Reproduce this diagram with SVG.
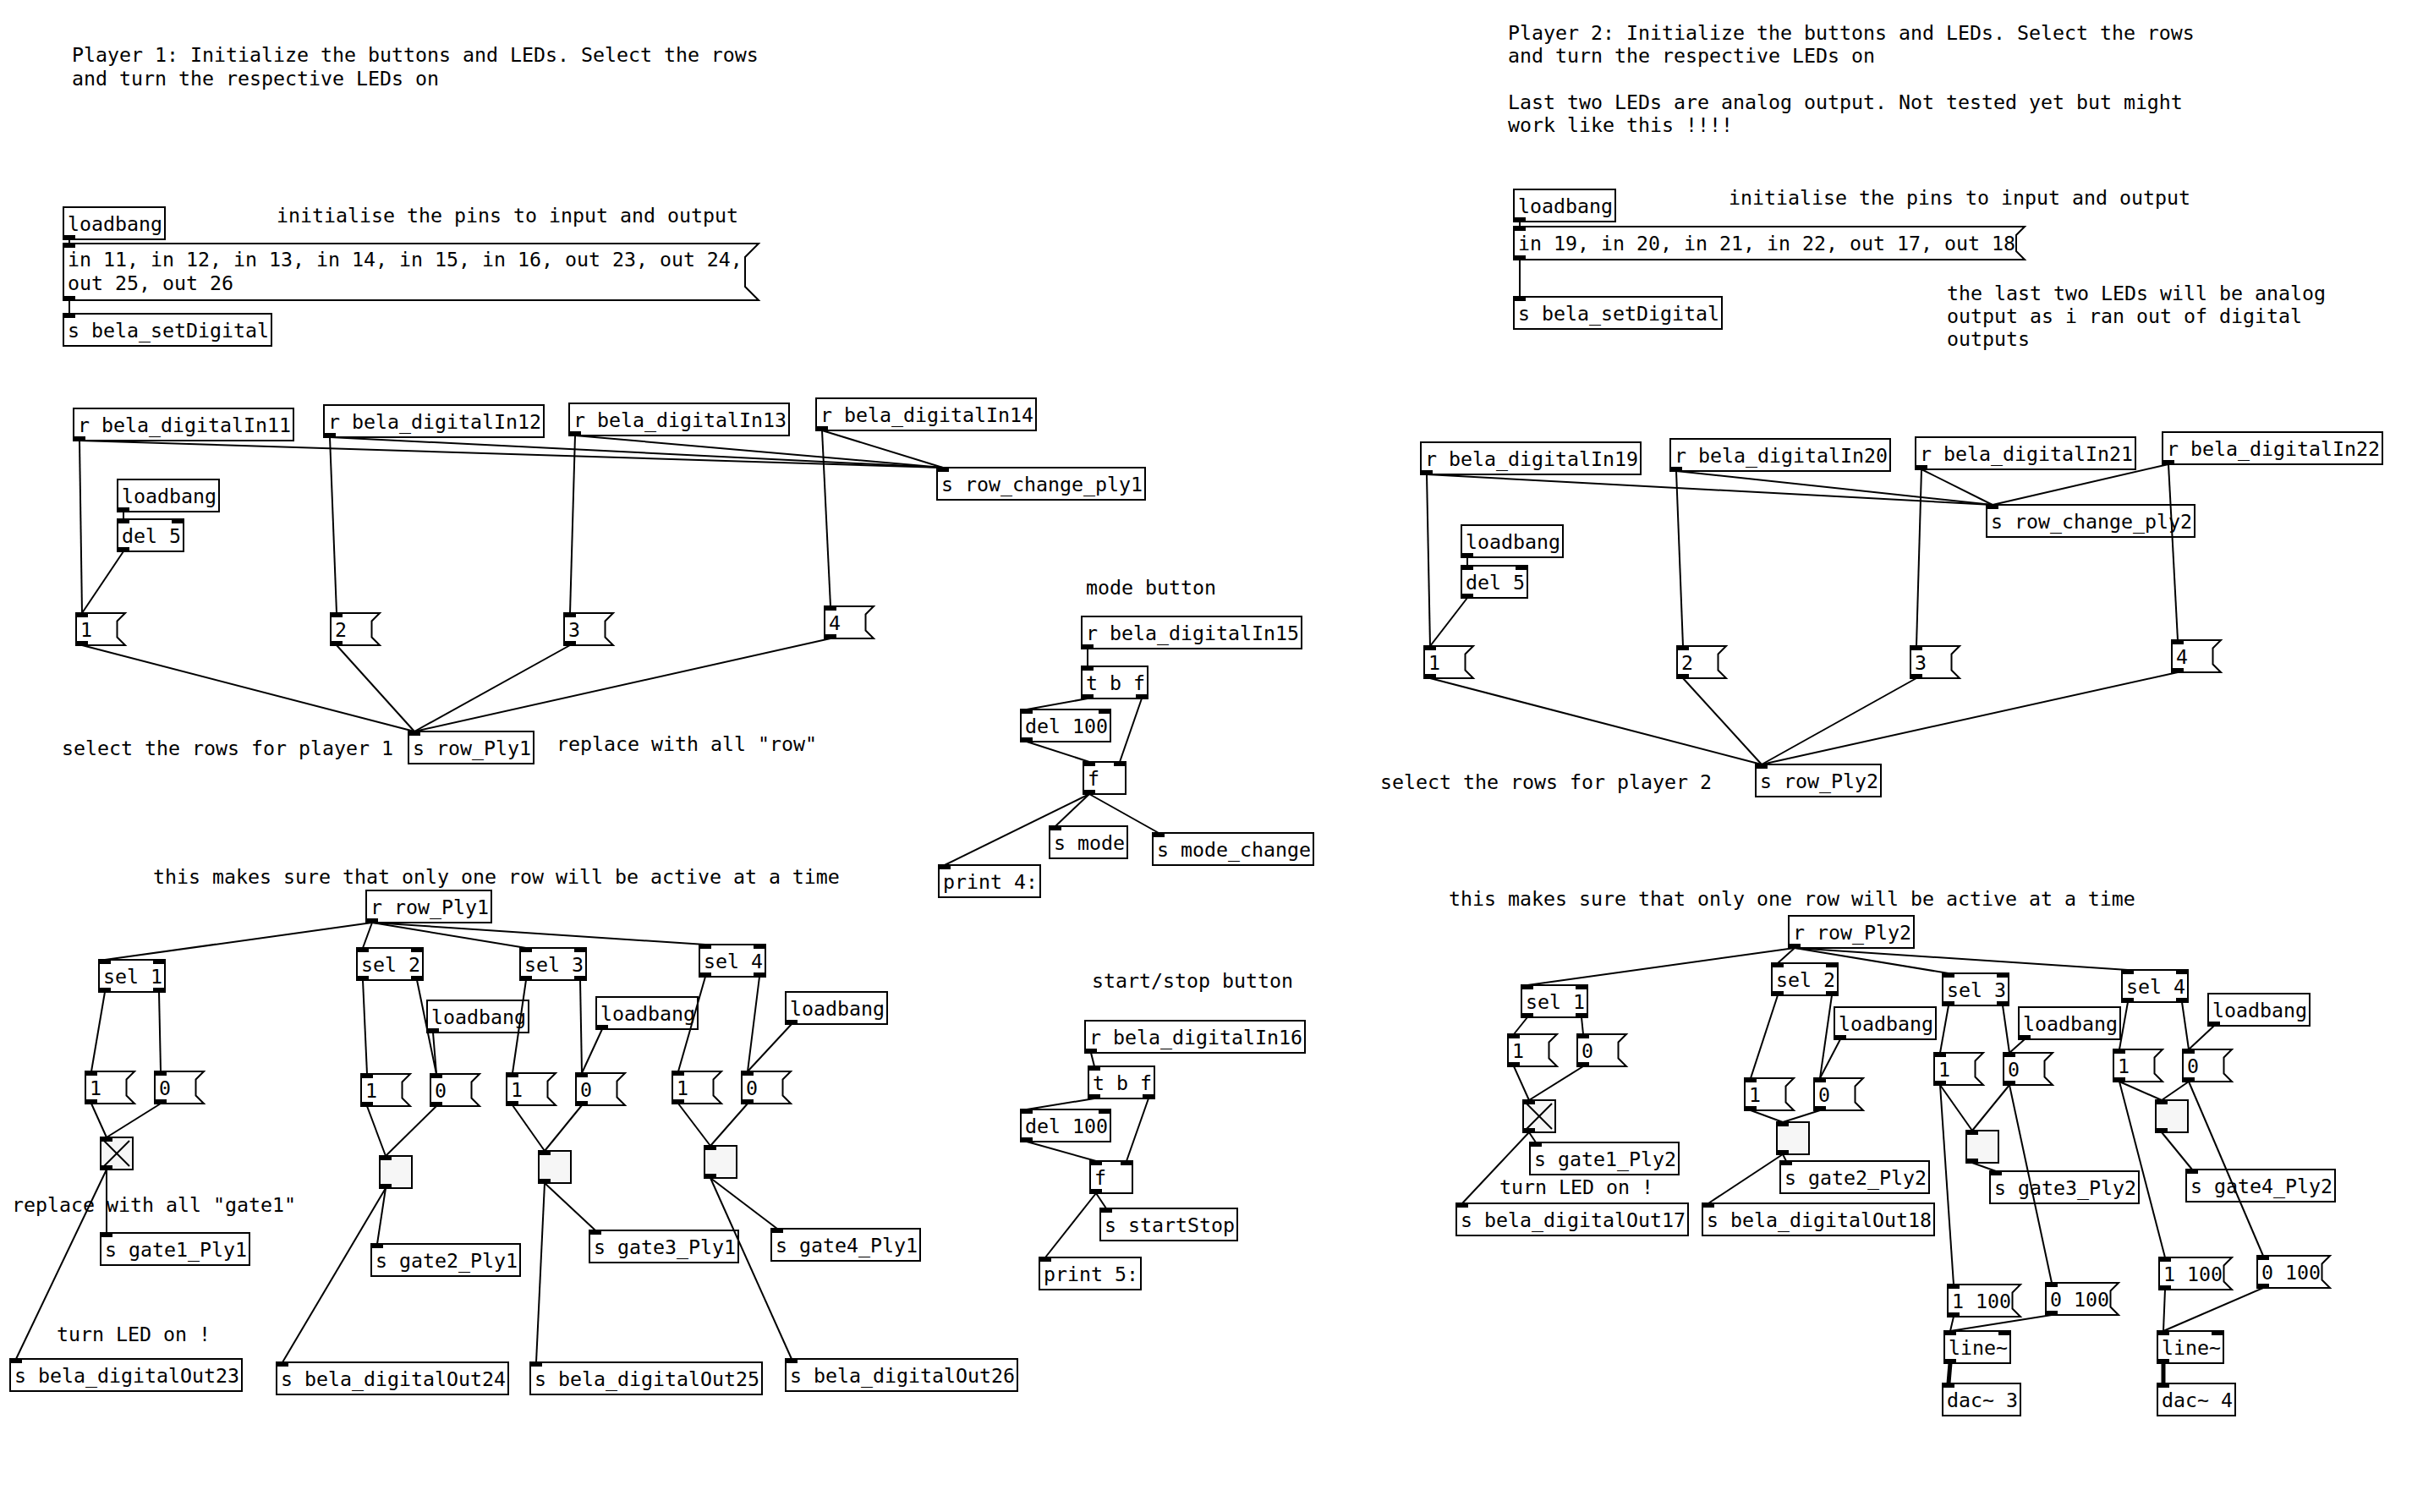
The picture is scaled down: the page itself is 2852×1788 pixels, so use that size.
<svg xmlns="http://www.w3.org/2000/svg" width="2852" height="1788" viewBox="0 0 2852 1788">
<style>
  .b{fill:#fff;stroke:#000;stroke-width:2}
  .tg{fill:#f6f6f6;stroke:#000;stroke-width:2}
  .io{fill:#000}
  .x{stroke:#000;stroke-width:2}
  text{font-family:"DejaVu Sans Mono","Liberation Mono",monospace;font-size:23.25px;fill:#000}
  .w line{stroke:#000;stroke-width:2}
  .w line.sig{stroke-width:5}
</style>
<rect width="2852" height="1788" fill="#fff"/>

<!-- comments -->
<g id="comments">
  <text x="85" y="73">Player 1: Initialize the buttons and LEDs. Select the rows</text>
  <text x="85" y="101">and turn the respective LEDs on</text>
  <text x="327" y="263">initialise the pins to input and output</text>
  <text x="73" y="893">select the rows for player 1</text>
  <text x="658" y="888">replace with all "row"</text>
  <text x="1284" y="703">mode button</text>
  <text x="1291" y="1168">start/stop button</text>
  <text x="181" y="1045">this makes sure that only one row will be active at a time</text>
  <text x="14" y="1433">replace with all "gate1"</text>
  <text x="67" y="1586">turn LED on !</text>
  <text x="1783" y="47">Player 2: Initialize the buttons and LEDs. Select the rows</text>
  <text x="1783" y="74">and turn the respective LEDs on</text>
  <text x="1783" y="129">Last two LEDs are analog output. Not tested yet but might</text>
  <text x="1783" y="156">work like this !!!!</text>
  <text x="2044" y="242">initialise the pins to input and output</text>
  <text x="2302" y="355">the last two LEDs will be analog</text>
  <text x="2302" y="382">output as i ran out of digital</text>
  <text x="2302" y="409">outputs</text>
  <text x="1632" y="933">select the rows for player 2</text>
  <text x="1713" y="1071">this makes sure that only one row will be active at a time</text>
  <text x="1773" y="1412">turn LED on !</text>
</g>

<!-- player 1: pin setup -->
<g id="p1_init_loadbang"><rect class="b" x="75" y="245" width="120" height="38"/><rect class="io" x="75" y="278" width="14" height="5"/><text x="80" y="272.5">loadbang</text></g>
<g id="p1_init_msg"><polygon class="b" points="75,288 897,288 881,304 881,339 897,355 75,355"/><rect class="io" x="75" y="288" width="14" height="5"/><rect class="io" x="75" y="350" width="14" height="5"/><text x="80" y="315">in 11, in 12, in 13, in 14, in 15, in 16, out 23, out 24,</text><text x="80" y="343">out 25, out 26</text></g>
<g id="p1_setDigital"><rect class="b" x="75" y="371" width="246" height="38"/><rect class="io" x="75" y="371" width="14" height="5"/><text x="80" y="398.5">s bela_setDigital</text></g>

<!-- player 1: row buttons -->
<g id="p1_in11"><rect class="b" x="87" y="483" width="260" height="38"/><rect class="io" x="87" y="516" width="14" height="5"/><text x="92" y="510.5">r bela_digitalIn11</text></g>
<g id="p1_in12"><rect class="b" x="383" y="479" width="260" height="38"/><rect class="io" x="383" y="512" width="14" height="5"/><text x="388" y="506.5">r bela_digitalIn12</text></g>
<g id="p1_in13"><rect class="b" x="673" y="477" width="260" height="38"/><rect class="io" x="673" y="510" width="14" height="5"/><text x="678" y="504.5">r bela_digitalIn13</text></g>
<g id="p1_in14"><rect class="b" x="965" y="471" width="260" height="38"/><rect class="io" x="965" y="504" width="14" height="5"/><text x="970" y="498.5">r bela_digitalIn14</text></g>
<g id="p1_row_change"><rect class="b" x="1108" y="553" width="246" height="38"/><rect class="io" x="1108" y="553" width="14" height="5"/><text x="1113" y="580.5">s row_change_ply1</text></g>
<g id="p1_row_loadbang"><rect class="b" x="139" y="567" width="120" height="38"/><rect class="io" x="139" y="600" width="14" height="5"/><text x="144" y="594.5">loadbang</text></g>
<g id="p1_row_del"><rect class="b" x="139" y="614" width="78" height="38"/><rect class="io" x="139" y="614" width="14" height="5"/><rect class="io" x="203" y="614" width="14" height="5"/><rect class="io" x="139" y="647" width="14" height="5"/><text x="144" y="641.5">del 5</text></g>
<g id="p1_row_msg1"><polygon class="b" points="90,725 148,725 138.5,734.5 138.5,753.5 148,763 90,763"/><rect class="io" x="90" y="725" width="14" height="5"/><rect class="io" x="90" y="758" width="14" height="5"/><text x="95" y="752.5">1</text></g>
<g id="p1_row_msg2"><polygon class="b" points="391,725 449,725 439.5,734.5 439.5,753.5 449,763 391,763"/><rect class="io" x="391" y="725" width="14" height="5"/><rect class="io" x="391" y="758" width="14" height="5"/><text x="396" y="752.5">2</text></g>
<g id="p1_row_msg3"><polygon class="b" points="667,725 725,725 715.5,734.5 715.5,753.5 725,763 667,763"/><rect class="io" x="667" y="725" width="14" height="5"/><rect class="io" x="667" y="758" width="14" height="5"/><text x="672" y="752.5">3</text></g>
<g id="p1_row_msg4"><polygon class="b" points="975,717 1033,717 1023.5,726.5 1023.5,745.5 1033,755 975,755"/><rect class="io" x="975" y="717" width="14" height="5"/><rect class="io" x="975" y="750" width="14" height="5"/><text x="980" y="744.5">4</text></g>
<g id="p1_row_send"><rect class="b" x="483" y="865" width="148" height="38"/><rect class="io" x="483" y="865" width="14" height="5"/><text x="488" y="892.5">s row_Ply1</text></g>

<!-- mode button -->
<g id="mode_in15"><rect class="b" x="1279" y="729" width="260" height="38"/><rect class="io" x="1279" y="762" width="14" height="5"/><text x="1284" y="756.5">r bela_digitalIn15</text></g>
<g id="mode_trigger"><rect class="b" x="1279" y="788" width="78" height="38"/><rect class="io" x="1279" y="788" width="14" height="5"/><rect class="io" x="1279" y="821" width="14" height="5"/><rect class="io" x="1343" y="821" width="14" height="5"/><text x="1284" y="815.5">t b f</text></g>
<g id="mode_del"><rect class="b" x="1207" y="839" width="106" height="38"/><rect class="io" x="1207" y="839" width="14" height="5"/><rect class="io" x="1299" y="839" width="14" height="5"/><rect class="io" x="1207" y="872" width="14" height="5"/><text x="1212" y="866.5">del 100</text></g>
<g id="mode_float"><rect class="b" x="1281" y="901" width="50" height="38"/><rect class="io" x="1281" y="901" width="14" height="5"/><rect class="io" x="1317" y="901" width="14" height="5"/><rect class="io" x="1281" y="934" width="14" height="5"/><text x="1286" y="928.5">f</text></g>
<g id="mode_send"><rect class="b" x="1241" y="977" width="92" height="38"/><rect class="io" x="1241" y="977" width="14" height="5"/><text x="1246" y="1004.5">s mode</text></g>
<g id="mode_change_send"><rect class="b" x="1363" y="985" width="190" height="38"/><rect class="io" x="1363" y="985" width="14" height="5"/><text x="1368" y="1012.5">s mode_change</text></g>
<g id="mode_print"><rect class="b" x="1110" y="1023" width="120" height="38"/><rect class="io" x="1110" y="1023" width="14" height="5"/><text x="1115" y="1050.5">print 4:</text></g>

<!-- start/stop button -->
<g id="ss_in16"><rect class="b" x="1283" y="1207" width="260" height="38"/><rect class="io" x="1283" y="1240" width="14" height="5"/><text x="1288" y="1234.5">r bela_digitalIn16</text></g>
<g id="ss_trigger"><rect class="b" x="1287" y="1261" width="78" height="38"/><rect class="io" x="1287" y="1261" width="14" height="5"/><rect class="io" x="1287" y="1294" width="14" height="5"/><rect class="io" x="1351" y="1294" width="14" height="5"/><text x="1292" y="1288.5">t b f</text></g>
<g id="ss_del"><rect class="b" x="1207" y="1312" width="106" height="38"/><rect class="io" x="1207" y="1312" width="14" height="5"/><rect class="io" x="1299" y="1312" width="14" height="5"/><rect class="io" x="1207" y="1345" width="14" height="5"/><text x="1212" y="1339.5">del 100</text></g>
<g id="ss_float"><rect class="b" x="1289" y="1373" width="50" height="38"/><rect class="io" x="1289" y="1373" width="14" height="5"/><rect class="io" x="1325" y="1373" width="14" height="5"/><rect class="io" x="1289" y="1406" width="14" height="5"/><text x="1294" y="1400.5">f</text></g>
<g id="ss_send"><rect class="b" x="1301" y="1429" width="162" height="38"/><rect class="io" x="1301" y="1429" width="14" height="5"/><text x="1306" y="1456.5">s startStop</text></g>
<g id="ss_print"><rect class="b" x="1229" y="1487" width="120" height="38"/><rect class="io" x="1229" y="1487" width="14" height="5"/><text x="1234" y="1514.5">print 5:</text></g>

<!-- player 1: LED gates -->
<g id="p1_row_recv"><rect class="b" x="433" y="1053" width="148" height="38"/><rect class="io" x="433" y="1086" width="14" height="5"/><text x="438" y="1080.5">r row_Ply1</text></g>
<g id="p1_sel1"><rect class="b" x="117" y="1135" width="78" height="38"/><rect class="io" x="117" y="1135" width="14" height="5"/><rect class="io" x="181" y="1135" width="14" height="5"/><rect class="io" x="117" y="1168" width="14" height="5"/><rect class="io" x="181" y="1168" width="14" height="5"/><text x="122" y="1162.5">sel 1</text></g>
<g id="p1_sel2"><rect class="b" x="422" y="1121" width="78" height="38"/><rect class="io" x="422" y="1121" width="14" height="5"/><rect class="io" x="486" y="1121" width="14" height="5"/><rect class="io" x="422" y="1154" width="14" height="5"/><rect class="io" x="486" y="1154" width="14" height="5"/><text x="427" y="1148.5">sel 2</text></g>
<g id="p1_sel3"><rect class="b" x="615" y="1121" width="78" height="38"/><rect class="io" x="615" y="1121" width="14" height="5"/><rect class="io" x="679" y="1121" width="14" height="5"/><rect class="io" x="615" y="1154" width="14" height="5"/><rect class="io" x="679" y="1154" width="14" height="5"/><text x="620" y="1148.5">sel 3</text></g>
<g id="p1_sel4"><rect class="b" x="827" y="1117" width="78" height="38"/><rect class="io" x="827" y="1117" width="14" height="5"/><rect class="io" x="891" y="1117" width="14" height="5"/><rect class="io" x="827" y="1150" width="14" height="5"/><rect class="io" x="891" y="1150" width="14" height="5"/><text x="832" y="1144.5">sel 4</text></g>

<g id="p1_g1_on"><polygon class="b" points="101,1267 159,1267 149.5,1276.5 149.5,1295.5 159,1305 101,1305"/><rect class="io" x="101" y="1267" width="14" height="5"/><rect class="io" x="101" y="1300" width="14" height="5"/><text x="106" y="1294.5">1</text></g>
<g id="p1_g1_off"><polygon class="b" points="183,1267 241,1267 231.5,1276.5 231.5,1295.5 241,1305 183,1305"/><rect class="io" x="183" y="1267" width="14" height="5"/><rect class="io" x="183" y="1300" width="14" height="5"/><text x="188" y="1294.5">0</text></g>
<g id="p1_g1_toggle"><rect class="tg" x="119" y="1345" width="38" height="38"/><line class="x" x1="123" y1="1349" x2="153" y2="1379"/><line class="x" x1="153" y1="1349" x2="123" y2="1379"/><rect class="io" x="119" y="1345" width="14" height="5"/><rect class="io" x="119" y="1378" width="14" height="5"/></g>
<g id="p1_g1_send"><rect class="b" x="119" y="1458" width="176" height="38"/><rect class="io" x="119" y="1458" width="14" height="5"/><text x="124" y="1485.5">s gate1_Ply1</text></g>
<g id="p1_out23"><rect class="b" x="12" y="1607" width="274" height="38"/><rect class="io" x="12" y="1607" width="14" height="5"/><text x="17" y="1634.5">s bela_digitalOut23</text></g>

<g id="p1_g2_loadbang"><rect class="b" x="505" y="1183" width="120" height="38"/><rect class="io" x="505" y="1216" width="14" height="5"/><text x="510" y="1210.5">loadbang</text></g>
<g id="p1_g2_on"><polygon class="b" points="427,1270 485,1270 475.5,1279.5 475.5,1298.5 485,1308 427,1308"/><rect class="io" x="427" y="1270" width="14" height="5"/><rect class="io" x="427" y="1303" width="14" height="5"/><text x="432" y="1297.5">1</text></g>
<g id="p1_g2_off"><polygon class="b" points="509,1270 567,1270 557.5,1279.5 557.5,1298.5 567,1308 509,1308"/><rect class="io" x="509" y="1270" width="14" height="5"/><rect class="io" x="509" y="1303" width="14" height="5"/><text x="514" y="1297.5">0</text></g>
<g id="p1_g2_toggle"><rect class="tg" x="449" y="1367" width="38" height="38"/><rect class="io" x="449" y="1367" width="14" height="5"/><rect class="io" x="449" y="1400" width="14" height="5"/></g>
<g id="p1_g2_send"><rect class="b" x="439" y="1471" width="176" height="38"/><rect class="io" x="439" y="1471" width="14" height="5"/><text x="444" y="1498.5">s gate2_Ply1</text></g>
<g id="p1_out24"><rect class="b" x="327" y="1611" width="274" height="38"/><rect class="io" x="327" y="1611" width="14" height="5"/><text x="332" y="1638.5">s bela_digitalOut24</text></g>

<g id="p1_g3_loadbang"><rect class="b" x="705" y="1179" width="120" height="38"/><rect class="io" x="705" y="1212" width="14" height="5"/><text x="710" y="1206.5">loadbang</text></g>
<g id="p1_g3_on"><polygon class="b" points="599,1269 657,1269 647.5,1278.5 647.5,1297.5 657,1307 599,1307"/><rect class="io" x="599" y="1269" width="14" height="5"/><rect class="io" x="599" y="1302" width="14" height="5"/><text x="604" y="1296.5">1</text></g>
<g id="p1_g3_off"><polygon class="b" points="681,1269 739,1269 729.5,1278.5 729.5,1297.5 739,1307 681,1307"/><rect class="io" x="681" y="1269" width="14" height="5"/><rect class="io" x="681" y="1302" width="14" height="5"/><text x="686" y="1296.5">0</text></g>
<g id="p1_g3_toggle"><rect class="tg" x="637" y="1361" width="38" height="38"/><rect class="io" x="637" y="1361" width="14" height="5"/><rect class="io" x="637" y="1394" width="14" height="5"/></g>
<g id="p1_g3_send"><rect class="b" x="697" y="1455" width="176" height="38"/><rect class="io" x="697" y="1455" width="14" height="5"/><text x="702" y="1482.5">s gate3_Ply1</text></g>
<g id="p1_out25"><rect class="b" x="627" y="1611" width="274" height="38"/><rect class="io" x="627" y="1611" width="14" height="5"/><text x="632" y="1638.5">s bela_digitalOut25</text></g>

<g id="p1_g4_loadbang"><rect class="b" x="929" y="1173" width="120" height="38"/><rect class="io" x="929" y="1206" width="14" height="5"/><text x="934" y="1200.5">loadbang</text></g>
<g id="p1_g4_on"><polygon class="b" points="795,1267 853,1267 843.5,1276.5 843.5,1295.5 853,1305 795,1305"/><rect class="io" x="795" y="1267" width="14" height="5"/><rect class="io" x="795" y="1300" width="14" height="5"/><text x="800" y="1294.5">1</text></g>
<g id="p1_g4_off"><polygon class="b" points="877,1267 935,1267 925.5,1276.5 925.5,1295.5 935,1305 877,1305"/><rect class="io" x="877" y="1267" width="14" height="5"/><rect class="io" x="877" y="1300" width="14" height="5"/><text x="882" y="1294.5">0</text></g>
<g id="p1_g4_toggle"><rect class="tg" x="833" y="1355" width="38" height="38"/><rect class="io" x="833" y="1355" width="14" height="5"/><rect class="io" x="833" y="1388" width="14" height="5"/></g>
<g id="p1_g4_send"><rect class="b" x="912" y="1453" width="176" height="38"/><rect class="io" x="912" y="1453" width="14" height="5"/><text x="917" y="1480.5">s gate4_Ply1</text></g>
<g id="p1_out26"><rect class="b" x="929" y="1607" width="274" height="38"/><rect class="io" x="929" y="1607" width="14" height="5"/><text x="934" y="1634.5">s bela_digitalOut26</text></g>

<!-- player 2: pin setup -->
<g id="p2_init_loadbang"><rect class="b" x="1790" y="224" width="120" height="38"/><rect class="io" x="1790" y="257" width="14" height="5"/><text x="1795" y="251.5">loadbang</text></g>
<g id="p2_init_msg"><polygon class="b" points="1790,268 2394,268 2384,278 2384,297 2394,307 1790,307"/><rect class="io" x="1790" y="268" width="14" height="5"/><rect class="io" x="1790" y="302" width="14" height="5"/><text x="1795" y="295.5">in 19, in 20, in 21, in 22, out 17, out 18</text></g>
<g id="p2_setDigital"><rect class="b" x="1790" y="351" width="246" height="38"/><rect class="io" x="1790" y="351" width="14" height="5"/><text x="1795" y="378.5">s bela_setDigital</text></g>

<!-- player 2: row buttons -->
<g id="p2_in19"><rect class="b" x="1680" y="523" width="260" height="38"/><rect class="io" x="1680" y="556" width="14" height="5"/><text x="1685" y="550.5">r bela_digitalIn19</text></g>
<g id="p2_in20"><rect class="b" x="1975" y="519" width="260" height="38"/><rect class="io" x="1975" y="552" width="14" height="5"/><text x="1980" y="546.5">r bela_digitalIn20</text></g>
<g id="p2_in21"><rect class="b" x="2265" y="517" width="260" height="38"/><rect class="io" x="2265" y="550" width="14" height="5"/><text x="2270" y="544.5">r bela_digitalIn21</text></g>
<g id="p2_in22"><rect class="b" x="2557" y="511" width="260" height="38"/><rect class="io" x="2557" y="544" width="14" height="5"/><text x="2562" y="538.5">r bela_digitalIn22</text></g>
<g id="p2_row_change"><rect class="b" x="2349" y="597" width="246" height="38"/><rect class="io" x="2349" y="597" width="14" height="5"/><text x="2354" y="624.5">s row_change_ply2</text></g>
<g id="p2_row_loadbang"><rect class="b" x="1728" y="621" width="120" height="38"/><rect class="io" x="1728" y="654" width="14" height="5"/><text x="1733" y="648.5">loadbang</text></g>
<g id="p2_row_del"><rect class="b" x="1728" y="669" width="78" height="38"/><rect class="io" x="1728" y="669" width="14" height="5"/><rect class="io" x="1792" y="669" width="14" height="5"/><rect class="io" x="1728" y="702" width="14" height="5"/><text x="1733" y="696.5">del 5</text></g>
<g id="p2_row_msg1"><polygon class="b" points="1684,764 1742,764 1732.5,773.5 1732.5,792.5 1742,802 1684,802"/><rect class="io" x="1684" y="764" width="14" height="5"/><rect class="io" x="1684" y="797" width="14" height="5"/><text x="1689" y="791.5">1</text></g>
<g id="p2_row_msg2"><polygon class="b" points="1983,764 2041,764 2031.5,773.5 2031.5,792.5 2041,802 1983,802"/><rect class="io" x="1983" y="764" width="14" height="5"/><rect class="io" x="1983" y="797" width="14" height="5"/><text x="1988" y="791.5">2</text></g>
<g id="p2_row_msg3"><polygon class="b" points="2259,764 2317,764 2307.5,773.5 2307.5,792.5 2317,802 2259,802"/><rect class="io" x="2259" y="764" width="14" height="5"/><rect class="io" x="2259" y="797" width="14" height="5"/><text x="2264" y="791.5">3</text></g>
<g id="p2_row_msg4"><polygon class="b" points="2568,757 2626,757 2616.5,766.5 2616.5,785.5 2626,795 2568,795"/><rect class="io" x="2568" y="757" width="14" height="5"/><rect class="io" x="2568" y="790" width="14" height="5"/><text x="2573" y="784.5">4</text></g>
<g id="p2_row_send"><rect class="b" x="2076" y="904" width="148" height="38"/><rect class="io" x="2076" y="904" width="14" height="5"/><text x="2081" y="931.5">s row_Ply2</text></g>

<!-- player 2: LED gates -->
<g id="p2_row_recv"><rect class="b" x="2115" y="1083" width="148" height="38"/><rect class="io" x="2115" y="1116" width="14" height="5"/><text x="2120" y="1110.5">r row_Ply2</text></g>
<g id="p2_sel1"><rect class="b" x="1799" y="1165" width="78" height="38"/><rect class="io" x="1799" y="1165" width="14" height="5"/><rect class="io" x="1863" y="1165" width="14" height="5"/><rect class="io" x="1799" y="1198" width="14" height="5"/><rect class="io" x="1863" y="1198" width="14" height="5"/><text x="1804" y="1192.5">sel 1</text></g>
<g id="p2_g1_on"><polygon class="b" points="1783,1223 1841,1223 1831.5,1232.5 1831.5,1251.5 1841,1261 1783,1261"/><rect class="io" x="1783" y="1223" width="14" height="5"/><rect class="io" x="1783" y="1256" width="14" height="5"/><text x="1788" y="1250.5">1</text></g>
<g id="p2_g1_off"><polygon class="b" points="1865,1223 1923,1223 1913.5,1232.5 1913.5,1251.5 1923,1261 1865,1261"/><rect class="io" x="1865" y="1223" width="14" height="5"/><rect class="io" x="1865" y="1256" width="14" height="5"/><text x="1870" y="1250.5">0</text></g>
<g id="p2_g1_toggle"><rect class="tg" x="1801" y="1301" width="38" height="38"/><line class="x" x1="1805" y1="1305" x2="1835" y2="1335"/><line class="x" x1="1835" y1="1305" x2="1805" y2="1335"/><rect class="io" x="1801" y="1301" width="14" height="5"/><rect class="io" x="1801" y="1334" width="14" height="5"/></g>
<g id="p2_g1_send"><rect class="b" x="1809" y="1351" width="176" height="38"/><rect class="io" x="1809" y="1351" width="14" height="5"/><text x="1814" y="1378.5">s gate1_Ply2</text></g>
<g id="p2_out17"><rect class="b" x="1722" y="1423" width="274" height="38"/><rect class="io" x="1722" y="1423" width="14" height="5"/><text x="1727" y="1450.5">s bela_digitalOut17</text></g>

<g id="p2_sel2"><rect class="b" x="2095" y="1139" width="78" height="38"/><rect class="io" x="2095" y="1139" width="14" height="5"/><rect class="io" x="2159" y="1139" width="14" height="5"/><rect class="io" x="2095" y="1172" width="14" height="5"/><rect class="io" x="2159" y="1172" width="14" height="5"/><text x="2100" y="1166.5">sel 2</text></g>
<g id="p2_g2_loadbang"><rect class="b" x="2169" y="1191" width="120" height="38"/><rect class="io" x="2169" y="1224" width="14" height="5"/><text x="2174" y="1218.5">loadbang</text></g>
<g id="p2_g2_on"><polygon class="b" points="2063,1275 2121,1275 2111.5,1284.5 2111.5,1303.5 2121,1313 2063,1313"/><rect class="io" x="2063" y="1275" width="14" height="5"/><rect class="io" x="2063" y="1308" width="14" height="5"/><text x="2068" y="1302.5">1</text></g>
<g id="p2_g2_off"><polygon class="b" points="2145,1275 2203,1275 2193.5,1284.5 2193.5,1303.5 2203,1313 2145,1313"/><rect class="io" x="2145" y="1275" width="14" height="5"/><rect class="io" x="2145" y="1308" width="14" height="5"/><text x="2150" y="1302.5">0</text></g>
<g id="p2_g2_toggle"><rect class="tg" x="2101" y="1327" width="38" height="38"/><rect class="io" x="2101" y="1327" width="14" height="5"/><rect class="io" x="2101" y="1360" width="14" height="5"/></g>
<g id="p2_g2_send"><rect class="b" x="2105" y="1373" width="176" height="38"/><rect class="io" x="2105" y="1373" width="14" height="5"/><text x="2110" y="1400.5">s gate2_Ply2</text></g>
<g id="p2_out18"><rect class="b" x="2013" y="1423" width="274" height="38"/><rect class="io" x="2013" y="1423" width="14" height="5"/><text x="2018" y="1450.5">s bela_digitalOut18</text></g>

<g id="p2_sel3"><rect class="b" x="2297" y="1151" width="78" height="38"/><rect class="io" x="2297" y="1151" width="14" height="5"/><rect class="io" x="2361" y="1151" width="14" height="5"/><rect class="io" x="2297" y="1184" width="14" height="5"/><rect class="io" x="2361" y="1184" width="14" height="5"/><text x="2302" y="1178.5">sel 3</text></g>
<g id="p2_g3_loadbang"><rect class="b" x="2387" y="1191" width="120" height="38"/><rect class="io" x="2387" y="1224" width="14" height="5"/><text x="2392" y="1218.5">loadbang</text></g>
<g id="p2_g3_on"><polygon class="b" points="2287,1245 2345,1245 2335.5,1254.5 2335.5,1273.5 2345,1283 2287,1283"/><rect class="io" x="2287" y="1245" width="14" height="5"/><rect class="io" x="2287" y="1278" width="14" height="5"/><text x="2292" y="1272.5">1</text></g>
<g id="p2_g3_off"><polygon class="b" points="2369,1245 2427,1245 2417.5,1254.5 2417.5,1273.5 2427,1283 2369,1283"/><rect class="io" x="2369" y="1245" width="14" height="5"/><rect class="io" x="2369" y="1278" width="14" height="5"/><text x="2374" y="1272.5">0</text></g>
<g id="p2_g3_toggle"><rect class="tg" x="2325" y="1337" width="38" height="38"/><rect class="io" x="2325" y="1337" width="14" height="5"/><rect class="io" x="2325" y="1370" width="14" height="5"/></g>
<g id="p2_g3_send"><rect class="b" x="2353" y="1385" width="176" height="38"/><rect class="io" x="2353" y="1385" width="14" height="5"/><text x="2358" y="1412.5">s gate3_Ply2</text></g>
<g id="p2_g3_ramp_on"><polygon class="b" points="2303,1519 2389,1519 2379.5,1528.5 2379.5,1547.5 2389,1557 2303,1557"/><rect class="io" x="2303" y="1519" width="14" height="5"/><rect class="io" x="2303" y="1552" width="14" height="5"/><text x="2308" y="1546.5">1 100</text></g>
<g id="p2_g3_ramp_off"><polygon class="b" points="2419,1517 2505,1517 2495.5,1526.5 2495.5,1545.5 2505,1555 2419,1555"/><rect class="io" x="2419" y="1517" width="14" height="5"/><rect class="io" x="2419" y="1550" width="14" height="5"/><text x="2424" y="1544.5">0 100</text></g>
<g id="p2_g3_line"><rect class="b" x="2299" y="1574" width="78" height="38"/><rect class="io" x="2299" y="1574" width="14" height="5"/><rect class="io" x="2363" y="1574" width="14" height="5"/><rect class="io" x="2299" y="1607" width="14" height="5"/><text x="2304" y="1601.5">line~</text></g>
<g id="p2_g3_dac"><rect class="b" x="2297" y="1636" width="92" height="38"/><rect class="io" x="2297" y="1636" width="14" height="5"/><text x="2302" y="1663.5">dac~ 3</text></g>

<g id="p2_sel4"><rect class="b" x="2509" y="1147" width="78" height="38"/><rect class="io" x="2509" y="1147" width="14" height="5"/><rect class="io" x="2573" y="1147" width="14" height="5"/><rect class="io" x="2509" y="1180" width="14" height="5"/><rect class="io" x="2573" y="1180" width="14" height="5"/><text x="2514" y="1174.5">sel 4</text></g>
<g id="p2_g4_loadbang"><rect class="b" x="2611" y="1175" width="120" height="38"/><rect class="io" x="2611" y="1208" width="14" height="5"/><text x="2616" y="1202.5">loadbang</text></g>
<g id="p2_g4_on"><polygon class="b" points="2499,1241 2557,1241 2547.5,1250.5 2547.5,1269.5 2557,1279 2499,1279"/><rect class="io" x="2499" y="1241" width="14" height="5"/><rect class="io" x="2499" y="1274" width="14" height="5"/><text x="2504" y="1268.5">1</text></g>
<g id="p2_g4_off"><polygon class="b" points="2581,1241 2639,1241 2629.5,1250.5 2629.5,1269.5 2639,1279 2581,1279"/><rect class="io" x="2581" y="1241" width="14" height="5"/><rect class="io" x="2581" y="1274" width="14" height="5"/><text x="2586" y="1268.5">0</text></g>
<g id="p2_g4_toggle"><rect class="tg" x="2549" y="1301" width="38" height="38"/><rect class="io" x="2549" y="1301" width="14" height="5"/><rect class="io" x="2549" y="1334" width="14" height="5"/></g>
<g id="p2_g4_send"><rect class="b" x="2585" y="1383" width="176" height="38"/><rect class="io" x="2585" y="1383" width="14" height="5"/><text x="2590" y="1410.5">s gate4_Ply2</text></g>
<g id="p2_g4_ramp_on"><polygon class="b" points="2553,1487 2639,1487 2629.5,1496.5 2629.5,1515.5 2639,1525 2553,1525"/><rect class="io" x="2553" y="1487" width="14" height="5"/><rect class="io" x="2553" y="1520" width="14" height="5"/><text x="2558" y="1514.5">1 100</text></g>
<g id="p2_g4_ramp_off"><polygon class="b" points="2669,1485 2755,1485 2745.5,1494.5 2745.5,1513.5 2755,1523 2669,1523"/><rect class="io" x="2669" y="1485" width="14" height="5"/><rect class="io" x="2669" y="1518" width="14" height="5"/><text x="2674" y="1512.5">0 100</text></g>
<g id="p2_g4_line"><rect class="b" x="2551" y="1574" width="78" height="38"/><rect class="io" x="2551" y="1574" width="14" height="5"/><rect class="io" x="2615" y="1574" width="14" height="5"/><rect class="io" x="2551" y="1607" width="14" height="5"/><text x="2556" y="1601.5">line~</text></g>
<g id="p2_g4_dac"><rect class="b" x="2551" y="1636" width="92" height="38"/><rect class="io" x="2551" y="1636" width="14" height="5"/><text x="2556" y="1663.5">dac~ 4</text></g>

<!-- patch cords -->
<g id="connections" class="w">
  <line x1="82" y1="283" x2="82" y2="288"/>
  <line x1="82" y1="355" x2="82" y2="371"/>

  <line x1="94" y1="521" x2="97" y2="725"/>
  <line x1="94" y1="521" x2="1115" y2="553"/>
  <line x1="390" y1="517" x2="398" y2="725"/>
  <line x1="390" y1="517" x2="1115" y2="553"/>
  <line x1="680" y1="515" x2="674" y2="725"/>
  <line x1="680" y1="515" x2="1115" y2="553"/>
  <line x1="972" y1="509" x2="982" y2="717"/>
  <line x1="972" y1="509" x2="1115" y2="553"/>
  <line x1="146" y1="605" x2="146" y2="614"/>
  <line x1="146" y1="652" x2="97" y2="725"/>
  <line x1="97" y1="763" x2="490" y2="865"/>
  <line x1="398" y1="763" x2="490" y2="865"/>
  <line x1="674" y1="763" x2="490" y2="865"/>
  <line x1="982" y1="755" x2="490" y2="865"/>

  <line x1="1286" y1="767" x2="1286" y2="788"/>
  <line x1="1286" y1="826" x2="1214" y2="839"/>
  <line x1="1350" y1="826" x2="1324" y2="901"/>
  <line x1="1214" y1="877" x2="1288" y2="901"/>
  <line x1="1288" y1="939" x2="1117" y2="1023"/>
  <line x1="1288" y1="939" x2="1248" y2="977"/>
  <line x1="1288" y1="939" x2="1370" y2="985"/>

  <line x1="1290" y1="1245" x2="1294" y2="1261"/>
  <line x1="1294" y1="1299" x2="1214" y2="1312"/>
  <line x1="1358" y1="1299" x2="1332" y2="1373"/>
  <line x1="1214" y1="1350" x2="1296" y2="1373"/>
  <line x1="1296" y1="1411" x2="1308" y2="1429"/>
  <line x1="1296" y1="1411" x2="1236" y2="1487"/>

  <line x1="440" y1="1091" x2="124" y2="1135"/>
  <line x1="440" y1="1091" x2="429" y2="1121"/>
  <line x1="440" y1="1091" x2="622" y2="1121"/>
  <line x1="440" y1="1091" x2="834" y2="1117"/>
  <line x1="124" y1="1173" x2="108" y2="1267"/>
  <line x1="188" y1="1173" x2="190" y2="1267"/>
  <line x1="108" y1="1305" x2="126" y2="1345"/>
  <line x1="190" y1="1305" x2="126" y2="1345"/>
  <line x1="126" y1="1383" x2="126" y2="1458"/>
  <line x1="126" y1="1383" x2="19" y2="1607"/>
  <line x1="429" y1="1159" x2="434" y2="1270"/>
  <line x1="493" y1="1159" x2="516" y2="1270"/>
  <line x1="512" y1="1221" x2="516" y2="1270"/>
  <line x1="434" y1="1308" x2="456" y2="1367"/>
  <line x1="516" y1="1308" x2="456" y2="1367"/>
  <line x1="456" y1="1405" x2="446" y2="1471"/>
  <line x1="456" y1="1405" x2="334" y2="1611"/>
  <line x1="622" y1="1159" x2="606" y2="1269"/>
  <line x1="686" y1="1159" x2="688" y2="1269"/>
  <line x1="712" y1="1217" x2="688" y2="1269"/>
  <line x1="606" y1="1307" x2="644" y2="1361"/>
  <line x1="688" y1="1307" x2="644" y2="1361"/>
  <line x1="644" y1="1399" x2="704" y2="1455"/>
  <line x1="644" y1="1399" x2="634" y2="1611"/>
  <line x1="834" y1="1155" x2="802" y2="1267"/>
  <line x1="898" y1="1155" x2="884" y2="1267"/>
  <line x1="936" y1="1211" x2="884" y2="1267"/>
  <line x1="802" y1="1305" x2="840" y2="1355"/>
  <line x1="884" y1="1305" x2="840" y2="1355"/>
  <line x1="840" y1="1393" x2="919" y2="1453"/>
  <line x1="840" y1="1393" x2="936" y2="1607"/>

  <line x1="1797" y1="262" x2="1797" y2="268"/>
  <line x1="1797" y1="307" x2="1797" y2="351"/>

  <line x1="1687" y1="561" x2="1691" y2="764"/>
  <line x1="1687" y1="561" x2="2356" y2="597"/>
  <line x1="1982" y1="557" x2="1990" y2="764"/>
  <line x1="1982" y1="557" x2="2356" y2="597"/>
  <line x1="2272" y1="555" x2="2266" y2="764"/>
  <line x1="2272" y1="555" x2="2356" y2="597"/>
  <line x1="2564" y1="549" x2="2575" y2="757"/>
  <line x1="2564" y1="549" x2="2356" y2="597"/>
  <line x1="1735" y1="659" x2="1735" y2="669"/>
  <line x1="1735" y1="707" x2="1691" y2="764"/>
  <line x1="1691" y1="802" x2="2083" y2="904"/>
  <line x1="1990" y1="802" x2="2083" y2="904"/>
  <line x1="2266" y1="802" x2="2083" y2="904"/>
  <line x1="2575" y1="795" x2="2083" y2="904"/>

  <line x1="2122" y1="1121" x2="1806" y2="1165"/>
  <line x1="2122" y1="1121" x2="2102" y2="1139"/>
  <line x1="2122" y1="1121" x2="2304" y2="1151"/>
  <line x1="2122" y1="1121" x2="2516" y2="1147"/>
  <line x1="1806" y1="1203" x2="1790" y2="1223"/>
  <line x1="1870" y1="1203" x2="1872" y2="1223"/>
  <line x1="1790" y1="1261" x2="1808" y2="1301"/>
  <line x1="1872" y1="1261" x2="1808" y2="1301"/>
  <line x1="1808" y1="1339" x2="1816" y2="1351"/>
  <line x1="1808" y1="1339" x2="1729" y2="1423"/>
  <line x1="2102" y1="1177" x2="2070" y2="1275"/>
  <line x1="2166" y1="1177" x2="2152" y2="1275"/>
  <line x1="2176" y1="1229" x2="2152" y2="1275"/>
  <line x1="2070" y1="1313" x2="2108" y2="1327"/>
  <line x1="2152" y1="1313" x2="2108" y2="1327"/>
  <line x1="2108" y1="1365" x2="2112" y2="1373"/>
  <line x1="2108" y1="1365" x2="2020" y2="1423"/>
  <line x1="2304" y1="1189" x2="2294" y2="1245"/>
  <line x1="2368" y1="1189" x2="2376" y2="1245"/>
  <line x1="2394" y1="1229" x2="2376" y2="1245"/>
  <line x1="2294" y1="1283" x2="2332" y2="1337"/>
  <line x1="2294" y1="1283" x2="2310" y2="1519"/>
  <line x1="2376" y1="1283" x2="2332" y2="1337"/>
  <line x1="2376" y1="1283" x2="2426" y2="1517"/>
  <line x1="2332" y1="1375" x2="2360" y2="1385"/>
  <line x1="2310" y1="1557" x2="2306" y2="1574"/>
  <line x1="2426" y1="1555" x2="2306" y2="1574"/>
  <line class="sig" x1="2306" y1="1612" x2="2304" y2="1636"/>
  <line x1="2516" y1="1185" x2="2506" y2="1241"/>
  <line x1="2580" y1="1185" x2="2588" y2="1241"/>
  <line x1="2618" y1="1213" x2="2588" y2="1241"/>
  <line x1="2506" y1="1279" x2="2556" y2="1301"/>
  <line x1="2506" y1="1279" x2="2560" y2="1487"/>
  <line x1="2588" y1="1279" x2="2556" y2="1301"/>
  <line x1="2588" y1="1279" x2="2676" y2="1485"/>
  <line x1="2556" y1="1339" x2="2592" y2="1383"/>
  <line x1="2560" y1="1525" x2="2558" y2="1574"/>
  <line x1="2676" y1="1523" x2="2558" y2="1574"/>
  <line class="sig" x1="2558" y1="1612" x2="2558" y2="1636"/>
</g>
</svg>
